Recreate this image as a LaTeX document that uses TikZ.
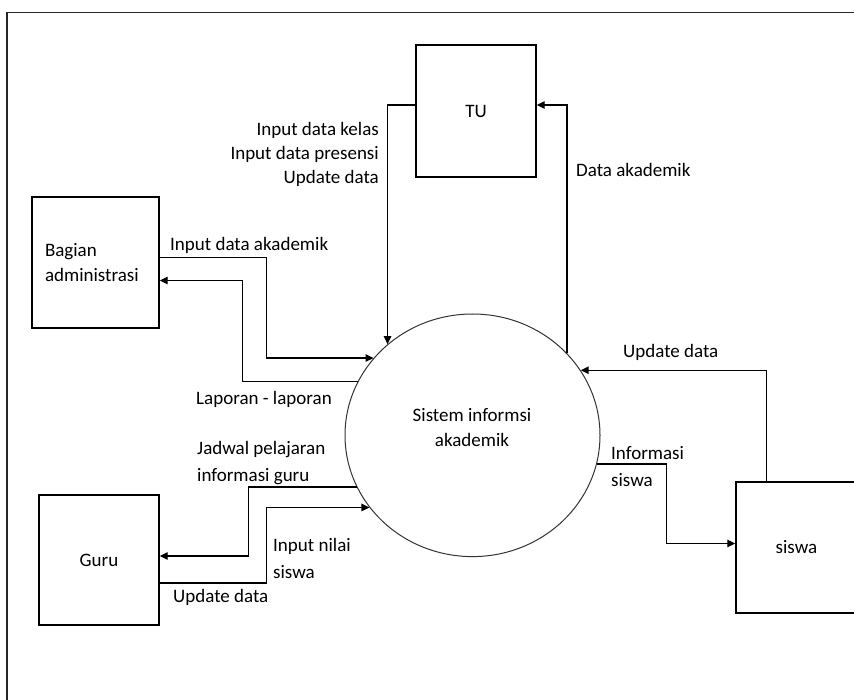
\documentclass[tikz,border=0pt]{standalone}
\usepackage{fontspec}
\setmainfont{Carlito}
\usetikzlibrary{shapes.geometric,arrows.meta}
\begin{document}
\begin{tikzpicture}[x=1pt,y=-1pt,
  every node/.style={font=\fontsize{19}{24}\selectfont},
  entity/.style={draw, line width=1.4pt, rectangle, inner sep=0pt},
  process/.style={draw=black!80, line width=1pt, ellipse, inner sep=0pt},
  flow/.style={draw, line width=1.2pt, -{Triangle[length=8pt,width=7.5pt]}},
  lbl/.style={inner sep=0pt},
  twoline/.style={font=\fontsize{19}{27}\selectfont, align=left}]
\useasboundingbox (0,0) rectangle (854,700);
\clip (0,0) rectangle (854,700);

% page frame (only top and left edges fall inside)
\draw[line width=1.3pt, black!85] (7,710) -- (7,12.5) -- (870,12.5);

% external entities
\node[entity, minimum width=120pt, minimum height=132pt] (tu) at (476,111) {TU};
\node[entity, minimum width=127pt, minimum height=131pt, text width=101pt, align=left,
      font=\fontsize{19}{25}\selectfont] (adm) at (95.5,262.5) {Bagian\\administrasi};
\node[entity, minimum width=120pt, minimum height=130pt] (guru) at (99,560) {Guru};
\node[entity, minimum width=121pt, minimum height=131pt] (siswa) at (796.5,547.5) {siswa};

% central process
\node[process, minimum width=255pt, minimum height=242.6pt] (sys) at (472.5,435.3) {};
\node[lbl, align=center, font=\fontsize{19}{25}\selectfont] (systxt) at (472,427.5)
  {Sistem informsi\\akademik};

% data flows
\draw[flow] ([yshift=6pt]tu.west) -| (sys.133.7);
\draw[flow] (sys.41.6) |- ([yshift=6pt]tu.east);
\draw[flow] ([yshift=5pt]adm.east) -- ++(107,0) |- (sys.142);
\draw[flow] (sys.155.4) -| ([xshift=83pt,yshift=-18pt]adm.east) -- ([yshift=-18pt]adm.east);
\draw[flow] (sys.204.3) -| ([xshift=89pt,yshift=4pt]guru.east) -- ([yshift=4pt]guru.east);
\draw[flow] ([yshift=-23pt]guru.east) -- ++(107,0) |- (sys.215.6);
\draw[flow] ([xshift=-30pt]siswa.north) |- (sys.31.3);
\draw[flow] (sys.-13.5) -| ([xshift=-69pt,yshift=4pt]siswa.west) -- ([yshift=4pt]siswa.west);

% flow labels
\node[lbl, align=right, anchor=east] (ltu) at (379,154)
  {Input data kelas\\Input data presensi\\Update data};
\node[lbl, anchor=west] (lakad) at (576,170) {Data akademik};
\node[lbl, anchor=west] (linak) at (170,245) {Input data akademik};
\node[lbl, anchor=west] (llap) at (196,399) {Laporan - laporan};
\node[lbl, twoline, anchor=west] (ljad) at (197,463.5) {Jadwal pelajaran\\informasi guru};
\node[lbl, twoline, anchor=west] (lnil) at (273,558) {Input nilai\\siswa};
\node[lbl, anchor=west] (lupg) at (173,597) {Update data};
\node[lbl, anchor=west] (lups) at (623,352) {Update data};
\node[lbl, twoline, anchor=west] (linf) at (611,466.5) {Informasi\\siswa};
\end{tikzpicture}
\end{document}
